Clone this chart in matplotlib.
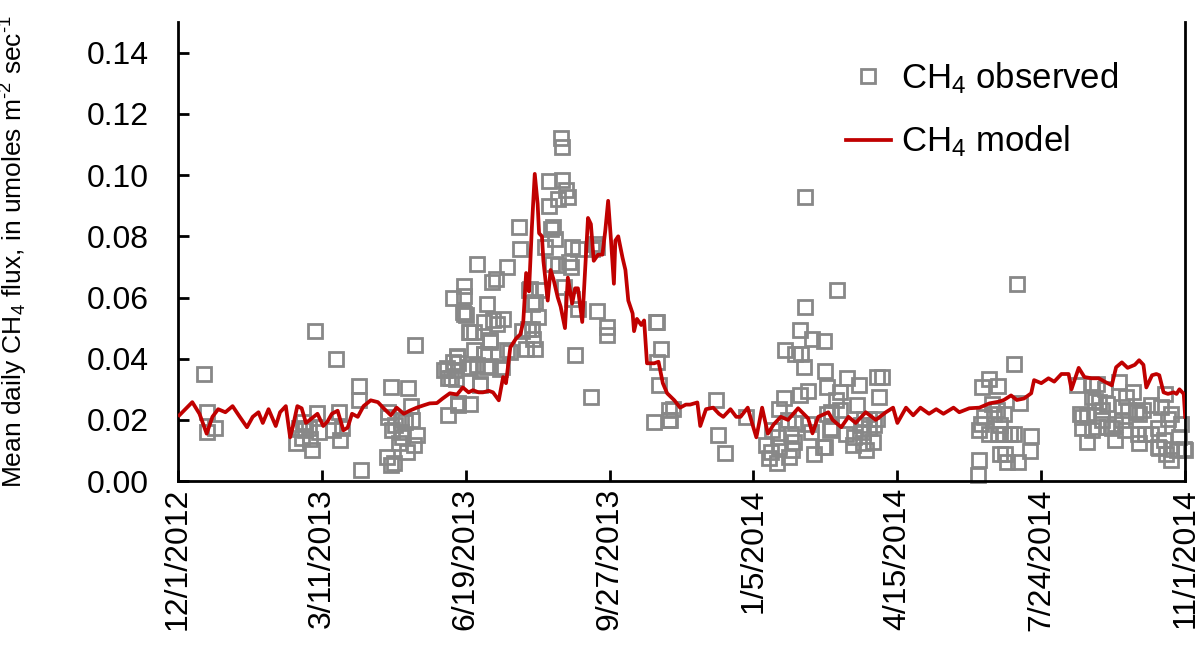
import matplotlib.pyplot as plt
import numpy as np
import pandas as pd

plt.rcParams['font.family'] = ['Liberation Sans', 'DejaVu Sans']
plt.rcParams['mathtext.fontset'] = 'custom'
plt.rcParams['mathtext.rm'] = 'Liberation Sans'
plt.rcParams['mathtext.it'] = 'Liberation Sans'

start = np.datetime64('2012-12-01')

# CH4 model: days since 12/1/2012 and daily flux
model_day = [1, 10, 15, 20, 24, 28, 33, 38, 43, 48, 52, 56, 59, 63, 68, 71, 75, 78, 80, 83,
             86, 89, 93, 97, 101, 104, 107, 111, 115, 118, 121, 125, 129, 134, 139, 143, 148, 152, 157, 161,
             166, 171, 175, 180, 184, 189, 194, 198, 202, 205, 209, 212, 216, 219, 223, 226, 228, 231, 235, 238,
             240, 242, 244, 246, 248, 250, 251, 253, 254, 257, 259, 261, 264, 266, 269, 271, 274, 276, 278, 281,
             283, 285, 287, 289, 292, 295, 297, 299, 301, 303, 304, 306, 309, 311, 313, 316, 317, 319, 322, 324,
             326, 331, 334, 337, 340, 345, 349, 353, 356, 361, 363, 367, 372, 376, 379, 384, 388, 391, 396, 399,
             402, 406, 410, 414, 419, 424, 431, 438, 441, 445, 452, 455, 461, 466, 471, 478, 485, 492, 497, 500,
             506, 511, 516, 522, 527, 532, 539, 543, 550, 557, 564, 571, 574, 579, 583, 588, 593, 595, 600, 605,
             609, 614, 619, 621, 626, 630, 635, 640, 644, 649, 652, 656, 660, 665, 668, 671, 673, 677, 680, 682,
             685, 688, 692, 694, 696, 699, 700]
model_flux = [0.0215, 0.0258, 0.022, 0.0155, 0.021, 0.0235, 0.0225, 0.0245, 0.021, 0.0176, 0.021, 0.0225, 0.019, 0.0235, 0.018, 0.0225, 0.0245, 0.0143, 0.018, 0.0245,
              0.0238, 0.019, 0.0205, 0.022, 0.018, 0.0195, 0.022, 0.023, 0.0166, 0.0175, 0.022, 0.021, 0.0245, 0.0264, 0.0258, 0.0238, 0.0215, 0.024, 0.022, 0.023,
              0.024, 0.0248, 0.0254, 0.0255, 0.027, 0.0287, 0.0283, 0.0306, 0.029, 0.0297, 0.029, 0.029, 0.0295, 0.029, 0.0264, 0.034, 0.032, 0.0437, 0.0466, 0.048,
              0.052, 0.068, 0.062, 0.083, 0.1004, 0.0906, 0.081, 0.080, 0.072, 0.059, 0.069, 0.066, 0.060, 0.057, 0.050, 0.0665, 0.058, 0.063, 0.063, 0.052,
              0.069, 0.086, 0.084, 0.072, 0.074, 0.074, 0.0818, 0.0916, 0.0786, 0.0645, 0.0786, 0.080, 0.073, 0.069, 0.059, 0.0548, 0.049, 0.053, 0.051, 0.0525,
              0.0385, 0.0385, 0.039, 0.032, 0.0287, 0.0264, 0.024, 0.025, 0.025, 0.0257, 0.018, 0.0235, 0.024, 0.022, 0.021, 0.0235, 0.021, 0.021, 0.024, 0.019,
              0.0143, 0.024, 0.0155, 0.0185, 0.021, 0.020, 0.0238, 0.0205, 0.0156, 0.021, 0.0225, 0.020, 0.0176, 0.021, 0.019, 0.0225, 0.020, 0.0225, 0.024, 0.019,
              0.024, 0.0215, 0.024, 0.022, 0.0235, 0.022, 0.024, 0.0225, 0.0238, 0.024, 0.0254, 0.026, 0.0265, 0.028, 0.0265, 0.027, 0.0287, 0.033, 0.032, 0.0336,
              0.0325, 0.035, 0.035, 0.030, 0.037, 0.034, 0.0336, 0.0336, 0.0325, 0.0313, 0.0372, 0.0388, 0.037, 0.038, 0.0395, 0.038, 0.0306, 0.0346, 0.035, 0.0346,
              0.029, 0.0285, 0.029, 0.0285, 0.030, 0.0285, 0.021]

# CH4 observed: days since 12/1/2012 and flux
obs_day = [18, 20, 20, 26, 95, 110, 97, 87, 82, 86, 88, 93, 92, 98, 91, 108, 112, 113, 114, 84,
           127, 126, 126, 148, 160, 165, 146, 162, 149, 155, 163, 166, 154, 164, 159, 145, 150, 148, 155, 156,
           151, 158, 146,
           188, 195, 203, 210, 185, 188, 192, 194, 195, 193, 202, 206, 213, 208, 215, 224, 217, 202, 206, 199,
           200, 191, 199, 199, 215, 213, 218, 221, 208, 229, 219, 222, 226, 229, 198, 203, 217, 213, 194, 191,
           187, 190, 210, 195, 217, 203, 225,
           266, 267, 258, 267, 270, 271, 264, 258, 237, 261, 259, 238, 255, 262, 274, 278, 288, 291, 290, 260,
           264, 272, 273, 245, 251, 268, 246, 248, 274, 278, 250, 291, 239, 243, 246, 247, 242, 248, 231, 276,
           298, 298, 287, 332, 333, 336, 333, 334, 331, 341, 341, 344, 342, 244,
           374, 375, 380, 395, 436, 436, 432, 441, 449, 422, 429, 433, 435, 450, 451, 421, 438, 432, 418, 424,
           429, 438, 440, 451, 453, 413, 409, 412, 416, 411, 418, 425, 427, 428, 442, 448, 417, 426, 457, 460,
           465, 473, 486, 489, 487, 460, 472, 454, 464, 469, 470, 478, 475, 477, 480, 484, 483, 486, 458, 454,
           476, 476, 450, 480,
           559, 564, 570, 566, 560, 558, 557, 564, 570, 557, 556, 571, 583, 581, 585, 567, 574, 571, 574, 578,
           581, 593, 575, 576, 584, 592, 569,
           625, 635, 639, 644, 654, 664, 659, 635, 637, 640, 646, 656, 627, 628, 632, 660, 666, 668, 676, 683,
           686, 690, 688, 697, 642, 651, 628, 635, 639, 646, 649, 658, 667, 672, 676, 681, 632, 651, 668, 681,
           685, 696, 690, 694, 699, 700, 690, 682, 687, 671, 642, 656]
obs_flux = [0.0351, 0.0226, 0.0159, 0.0175, 0.0492, 0.040, 0.0224, 0.0193, 0.0125, 0.014, 0.0166, 0.0101, 0.0139, 0.016, 0.0173, 0.0166, 0.0226, 0.0134, 0.0172, 0.0173,
            0.0036, 0.031, 0.0266, 0.0307, 0.0305, 0.0446, 0.0226, 0.0245, 0.0166, 0.016, 0.0199, 0.015, 0.0123, 0.0117, 0.0096, 0.0079, 0.0058, 0.0052, 0.020, 0.0145,
            0.0183, 0.0192, 0.021,
            0.0215, 0.0248, 0.0251, 0.0316, 0.0364, 0.0338, 0.0362, 0.0405, 0.0386, 0.0335, 0.0373, 0.0427, 0.0414, 0.0378, 0.0373, 0.0367, 0.046, 0.0487, 0.0487, 0.0547,
            0.0544, 0.060, 0.0604, 0.0639, 0.058, 0.052, 0.065, 0.066, 0.071, 0.070, 0.0525, 0.0514, 0.053, 0.0427, 0.0551, 0.0486, 0.0455, 0.0416, 0.041, 0.0388,
            0.0368, 0.0336, 0.0313, 0.0254, 0.0375, 0.0368, 0.0373,
            0.1122, 0.1092, 0.0981, 0.0984, 0.0951, 0.0927, 0.0922, 0.090, 0.0832, 0.0829, 0.0824, 0.076, 0.0764, 0.079, 0.0766, 0.076, 0.0759, 0.0766, 0.0776, 0.071,
            0.0707, 0.0715, 0.070, 0.0628, 0.0623, 0.0633, 0.058, 0.0585, 0.0596, 0.0563, 0.0536, 0.0557, 0.0492, 0.0498, 0.0498, 0.0465, 0.0433, 0.0433, 0.0422, 0.0413,
            0.0503, 0.0476, 0.0275, 0.052, 0.052, 0.0433, 0.0389, 0.0313, 0.0193, 0.020, 0.0231, 0.0234, 0.0201, 0.0626,
            0.0264, 0.0152, 0.0092, 0.021, 0.093, 0.057, 0.0494, 0.0465, 0.0457, 0.0427, 0.0414, 0.0414, 0.0373, 0.036, 0.0307, 0.027, 0.0294, 0.028, 0.0234, 0.020,
            0.019, 0.0188, 0.016, 0.022, 0.0166, 0.0166, 0.0117, 0.0096, 0.0058, 0.0077, 0.0112, 0.0079, 0.0101, 0.0128, 0.0088, 0.0112, 0.0144, 0.0155, 0.0264, 0.0291,
            0.0338, 0.0313, 0.034, 0.034, 0.0275, 0.0231, 0.0248, 0.0172, 0.0155, 0.0117, 0.0144, 0.0101, 0.0183, 0.0204, 0.0204, 0.0183, 0.0128, 0.0204, 0.0625, 0.0226,
            0.016, 0.0125, 0.011, 0.0172,
            0.0307, 0.0335, 0.031, 0.0253, 0.021, 0.0188, 0.0166, 0.0155, 0.0155, 0.0068, 0.002, 0.009, 0.0644, 0.0384, 0.0255, 0.022, 0.022, 0.0183, 0.0155, 0.0155,
            0.0155, 0.0147, 0.009, 0.0063, 0.0063, 0.0099, 0.0231,
            0.0313, 0.0313, 0.0318, 0.0302, 0.0324, 0.0291, 0.0275, 0.0275, 0.0261, 0.0258, 0.0253, 0.0242, 0.022, 0.021, 0.0215, 0.0231, 0.0226, 0.022, 0.0248, 0.0242,
            0.0286, 0.022, 0.0204, 0.0188, 0.0199, 0.0188, 0.0173, 0.0166, 0.0177, 0.0176, 0.0173, 0.0166, 0.0155, 0.0155, 0.0155, 0.0172, 0.0128, 0.0134, 0.0123, 0.0112,
            0.0134, 0.0144, 0.0104, 0.0101, 0.0104, 0.0101, 0.0068, 0.0107, 0.009, 0.0231, 0.0231, 0.0199]

tick_labels = ["12/1/2012", "3/11/2013", "6/19/2013", "9/27/2013",
               "1/5/2014", "4/15/2014", "7/24/2014", "11/1/2014"]
y_ticks = [0.00, 0.02, 0.04, 0.06, 0.08, 0.10, 0.12, 0.14]

model_dates = start + np.array(model_day).astype('timedelta64[D]')
obs_dates = start + np.array(obs_day).astype('timedelta64[D]')
tick_dates = pd.to_datetime(tick_labels, format="%m/%d/%Y")

fig = plt.figure(figsize=(12.02, 6.51), dpi=100)
ax = fig.add_axes([0.148, 0.261, 0.838, 0.705])

ax.plot(obs_dates, obs_flux, linestyle='none', marker='s', markersize=9.5,
        markerfacecolor='none', markeredgecolor='#888888', markeredgewidth=2.0,
        label=r"CH$_4$ observed", clip_on=False, zorder=2)
ax.plot(model_dates, model_flux, color='#C00000', linewidth=2.7,
        label=r"CH$_4$ model", zorder=3)

ax.set_xlim(tick_dates[0], tick_dates[-1])
ax.set_ylim(0, 0.15)
ax.set_xticks(tick_dates, tick_labels, rotation=90, fontsize=23)
ax.set_yticks(y_ticks, [f"{v:.2f}" for v in y_ticks], fontsize=23)
ax.tick_params(axis='both', direction='in', length=8, width=2)
ax.tick_params(axis='y', pad=21)
ax.tick_params(axis='x', pad=5)

for s in ['left', 'bottom', 'right']:
    ax.spines[s].set_linewidth(2)
ax.spines['top'].set_visible(False)

ax.set_ylabel("Mean daily CH$_4$ flux, in umoles m$^{\u2010 2}$ sec$^{\u2010 1}$", fontsize=19)
ax.yaxis.set_label_coords(-0.147, 0.5)

ax.legend(loc='upper right', bbox_to_anchor=(0.965, 0.985), frameon=False, fontsize=25,
          handlelength=1.3, handletextpad=0.3, labelspacing=0.8)

plt.savefig("out.png", dpi=100)
